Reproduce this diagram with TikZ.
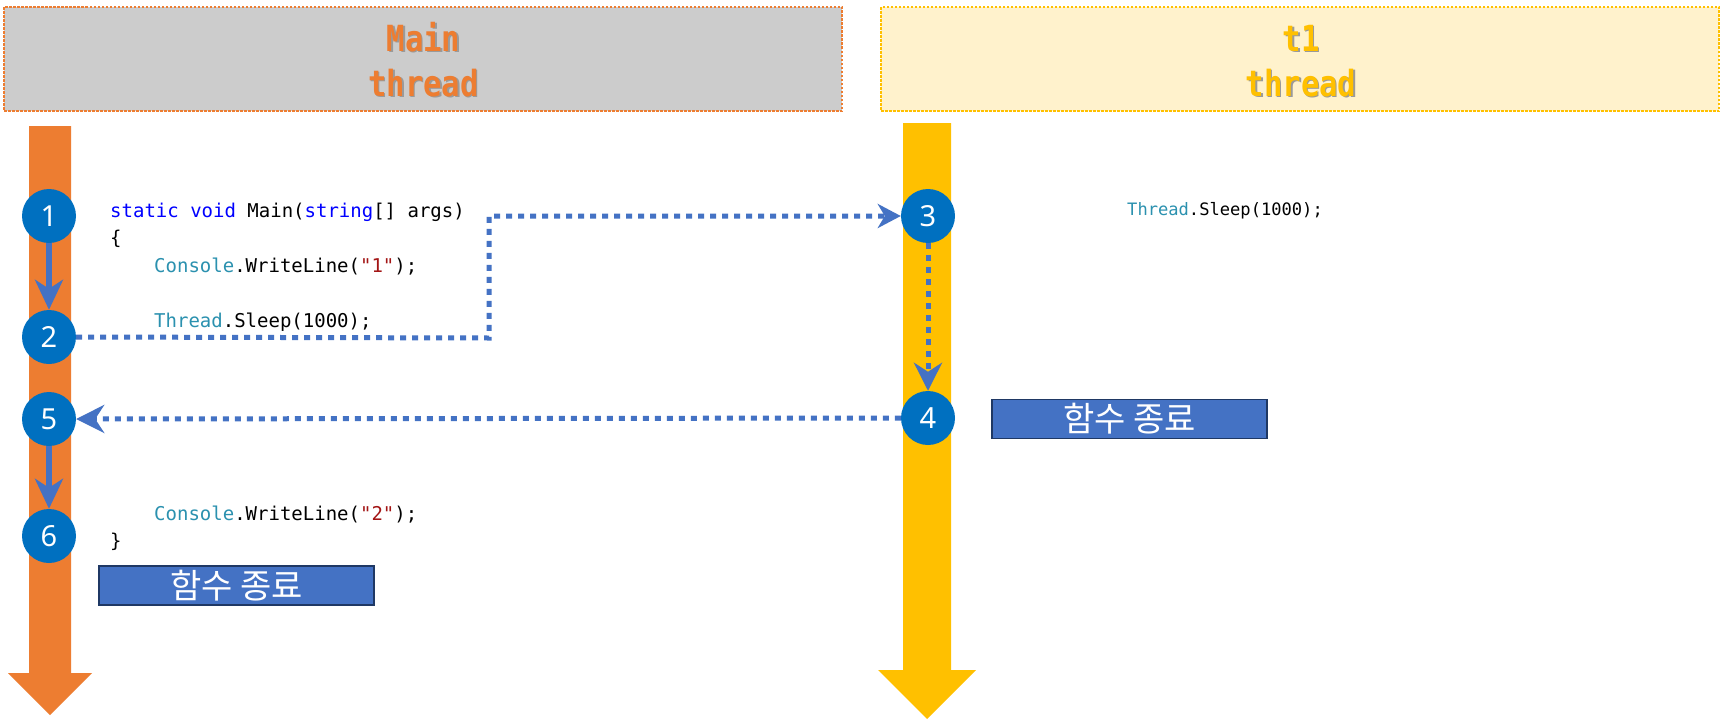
\documentclass[tikz,border=0pt]{standalone}
\usepackage{fontspec}
\setmainfont{Noto Sans}
\newfontfamily\codefont{DejaVu Sans Mono}
\newfontfamily\hfont[FakeStretch=0.85]{DejaVu Sans Mono Bold}
\newfontfamily\kfont{Noto Sans CJK KR}
\usetikzlibrary{arrows.meta}
\definecolor{orng}{HTML}{ED7D31}
\definecolor{ylw}{HTML}{FFC000}
\definecolor{hgray}{HTML}{CCCCCC}
\definecolor{hylw}{HTML}{FFF2CC}
\definecolor{cblue}{HTML}{0070C0}
\definecolor{ablue}{HTML}{4472C4}
\definecolor{bdark}{HTML}{1F3864}
\definecolor{kw}{HTML}{0000FF}
\definecolor{ty}{HTML}{2B91AF}
\definecolor{st}{HTML}{A31515}
\definecolor{shd}{HTML}{9A9A9A}
\begin{document}
\begin{tikzpicture}[x=1pt,y=-1pt,
 num/.style={circle,fill=cblue,minimum size=54pt,inner sep=0pt,text=white,font=\fontsize{29}{29}\selectfont},
 code/.style={anchor=base west,inner sep=0pt,font=\codefont\fontsize{19}{20}\selectfont},
 smallcode/.style={anchor=base west,inner sep=0pt,font=\codefont\fontsize{17.1}{18}\selectfont},
 endbox/.style={draw=bdark,line width=1.5pt,fill=ablue,text=white,minimum width=275pt,minimum height=39pt,inner sep=0pt,font=\kfont\fontsize{34}{34}\selectfont},
 dotarrow/.style={ablue,line width=5pt,dash pattern=on 6pt off 6pt,-{Stealth[length=28pt,width=28pt,inset=9pt]}},
 smalldotarrow/.style={ablue,line width=5pt,dash pattern=on 6pt off 6pt,-{Stealth[length=23pt,width=24pt,inset=7pt]}},
 solidarrow/.style={ablue,line width=6pt,-{Stealth[length=30pt,width=28pt,inset=9pt]}},
 htitle/.style={anchor=base,inner sep=0pt,font=\hfont\fontsize{36}{36}\selectfont},
 hborder/.style={line width=2.5pt,dash pattern=on 2.5pt off 1.5pt}
]
\useasboundingbox (0,0) rectangle (1721,720);
\fill[white] (0,0) rectangle (1721,720);

% headers
\fill[hgray] (4,7) rectangle (842,111);
\draw[hborder,orng] (4,7) rectangle (842,111);
\fill[hylw] (881,7) rectangle (1719,111);
\draw[hborder,ylw] (881,7) rectangle (1719,111);

\node[htitle,text=shd] (mshA) at (425,52.5) {Main};
\node[htitle,text=orng] (mA) at (423.5,51) {Main};
\node[htitle,text=shd] (mshB) at (425,97.5) {thread};
\node[htitle,text=orng] (mB) at (423.5,96) {thread};
\node[htitle,text=shd] (tshA) at (1302.5,52.5) {t1};
\node[htitle,text=ylw] (tA) at (1301,51) {t1};
\node[htitle,text=shd] (tshB) at (1302.5,97.5) {thread};
\node[htitle,text=ylw] (tB) at (1301,96) {thread};

% thread bars
\fill[orng] (29,126) -- (71,126) -- (71,673) -- (92,673) -- (50,715) -- (8,673) -- (29,673) -- cycle;
\fill[ylw] (903,123) -- (951,123) -- (951,670) -- (976,670) -- (927,719) -- (878,670) -- (903,670) -- cycle;

% circles
\node[num] (n1) at (49,216) {1};
\node[num] (n2) at (49,337) {2};
\node[num] (n5) at (49,419) {5};
\node[num] (n6) at (49,536) {6};
\node[num] (n3) at (928,216) {3};
\node[num] (n4) at (928,418) {4};

% code
\node[code] (c1) at (110,217) {\textcolor{kw}{static} \textcolor{kw}{void} Main(\textcolor{kw}{string}[] args)};
\node[code] (c2) at (110,244.5) {\{};
\node[code] (c3) at (154,272) {\textcolor{ty}{Console}.WriteLine(\textcolor{st}{"1"});};
\node[code] (c4) at (154,327) {\textcolor{ty}{Thread}.Sleep(1000);};
\node[code] (c5) at (154,520) {\textcolor{ty}{Console}.WriteLine(\textcolor{st}{"2"});};
\node[code] (c6) at (110,547) {\}};
\node[smallcode] (c7) at (1127,215) {\textcolor{ty}{Thread}.Sleep(1000);};

% end boxes
\node[endbox] (e1) at (236.5,585.5) {함수 종료};
\node[endbox] (e2) at (1129.5,419) {함수 종료};

% arrows
\draw[solidarrow] (n1) -- (n2);
\draw[solidarrow] (n5) -- (n6);
\coordinate (bend) at (489,338);
\draw[smalldotarrow] (n2.east) -- (bend) |- (n3.west);
\draw[dotarrow] (n3.south) -- (n4.north);
\draw[dotarrow] (n4.west) -- (n5.east);
\end{tikzpicture}
\end{document}
